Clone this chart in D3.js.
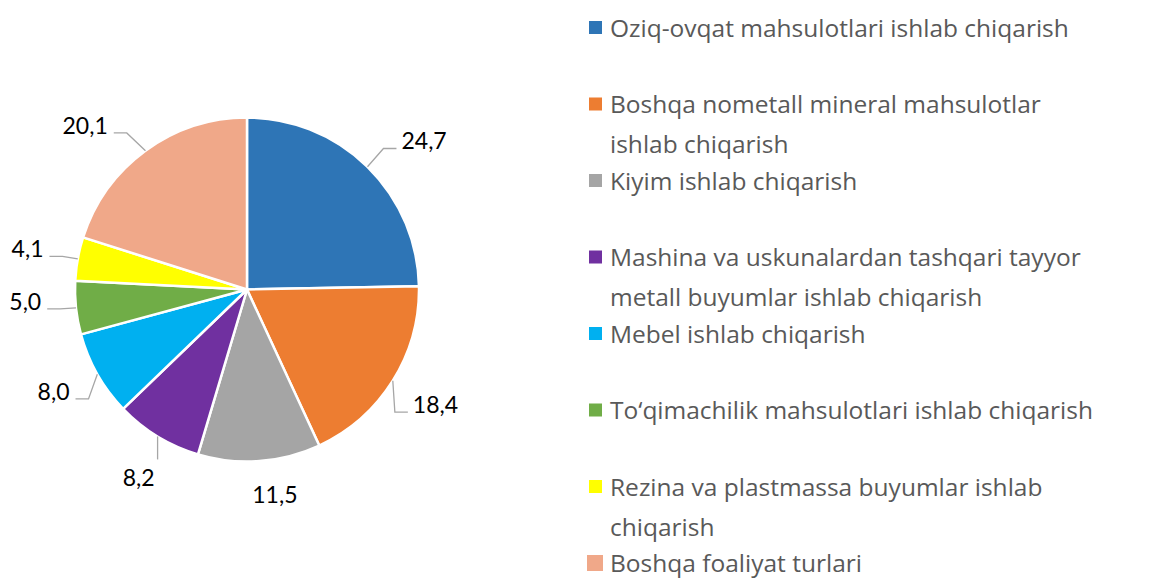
<!DOCTYPE html>
<html>
<head>
<meta charset="utf-8">
<script src="https://cdnjs.cloudflare.com/ajax/libs/d3/7.8.5/d3.min.js"></script>
<style>
  body { margin: 0; background: #fff; }
  svg { display: block; }
  .label { font-family: Lato, "Liberation Sans", sans-serif; font-size: 23px; fill: #000; }
  .legend text { font-family: "Open Sans", "Noto Sans", sans-serif; font-size: 24.5px; fill: #595959; }
</style>
</head>
<body>
<div id="chart"></div>
<script>
const categories = [
  "Oziq-ovqat mahsulotlari ishlab chiqarish",
  "Boshqa nometall mineral mahsulotlar ishlab chiqarish",
  "Kiyim ishlab chiqarish",
  "Mashina va uskunalardan tashqari tayyor metall buyumlar ishlab chiqarish",
  "Mebel ishlab chiqarish",
  "To‘qimachilik mahsulotlari ishlab chiqarish",
  "Rezina va plastmassa buyumlar ishlab chiqarish",
  "Boshqa foaliyat turlari"
];
const values = [24.7, 18.4, 11.5, 8.2, 8.0, 5.0, 4.1, 20.1];
const colors = ["#2E75B6", "#ED7D31", "#A5A5A5", "#7030A0", "#00B0F0", "#70AD47", "#FFFF00", "#F0A889"];

const width = 1173, height = 578;
const cx = 247, cy = 289.5, radius = 172;
const labelRadius = 220;
// labels were dragged by hand in the original, so nudge them off the radial spot
const labelNudge = [[23, 9], [2, -1], [12, -14], [6, 1], [-2, -6], [-3, -11], [-3, -1], [-32, 14]];

const data = categories.map((c, i) => ({ name: c, value: values[i], color: colors[i] }));

const svg = d3.select("#chart").append("svg")
  .attr("width", width)
  .attr("height", height);

const pie = d3.pie().value(d => d.value).sort(null);
const arc = d3.arc().innerRadius(0).outerRadius(radius);
const arcs = pie(data);

const g = svg.append("g")
  .attr("transform", "translate(" + cx + "," + cy + ")");

g.selectAll("path.slice")
  .data(arcs)
  .join("path")
  .attr("class", "slice")
  .attr("d", arc)
  .attr("fill", d => d.data.color)
  .attr("stroke", "#fff")
  .attr("stroke-width", 2.5)
  .attr("stroke-linejoin", "round");

const fmt = v => d3.format(".1f")(v).replace(".", ",");
const mid = d => (d.startAngle + d.endAngle) / 2;

const labels = g.selectAll("text.label")
  .data(arcs)
  .join("text")
  .attr("class", "label")
  .attr("text-anchor", "middle")
  .attr("x", (d, i) => Math.sin(mid(d)) * labelRadius + labelNudge[i][0])
  .attr("y", (d, i) => -Math.cos(mid(d)) * labelRadius + labelNudge[i][1] + 8)
  .text(d => fmt(d.data.value));

// leader lines from the slice edge to the label's baseline
labels.each(function(d) {
  const w = this.getComputedTextLength();
  const x = +this.getAttribute("x"), base = +this.getAttribute("y");
  const left = x - w / 2, right = x + w / 2, by = base - 1;
  const a = mid(d);
  const p = [Math.sin(a) * radius, -Math.cos(a) * radius];
  let pts = null;
  if (p[0] < left - 3) {
    pts = [p, [left - 18, by], [left - 5, by]];
  } else if (p[0] > right + 3) {
    pts = [p, [right + 19, by], [right + 6, by]];
  } else if (p[0] >= right - 3) {
    pts = [p, [p[0], base - 27]];
  }
  if (!pts) return;
  g.append("path")
    .attr("d", d3.line()(pts))
    .attr("fill", "none")
    .attr("stroke", "#A6A6A6")
    .attr("stroke-width", 1.3);
});

// legend
const legendY = d3.scalePoint().domain(categories).range([27.5, 563]);
const legend = svg.append("g").attr("class", "legend");

const items = legend.selectAll("g")
  .data(data)
  .join("g")
  .attr("transform", d => "translate(0," + legendY(d.name) + ")");

items.append("rect")
  .attr("x", (d, i) => i === data.length - 1 ? 587 : 589)
  .attr("y", (d, i) => i === data.length - 1 ? -8 : -6.5)
  .attr("width", (d, i) => i === data.length - 1 ? 16 : 13)
  .attr("height", (d, i) => i === data.length - 1 ? 16 : 13)
  .attr("fill", d => d.color);

items.append("text")
  .attr("x", 610)
  .attr("y", 9)
  .each(function(d) {
    const t = d3.select(this);
    const words = d.name.split(" ");
    let line = [];
    let tspan = t.append("tspan").attr("x", 610).attr("dy", 0);
    words.forEach(wd => {
      line.push(wd);
      tspan.text(line.join(" "));
      if (tspan.node().getComputedTextLength() > 495 && line.length > 1) {
        line.pop();
        tspan.text(line.join(" "));
        line = [wd];
        tspan = t.append("tspan").attr("x", 610).attr("dy", 40).text(wd);
      }
    });
  });
</script>
</body>
</html>
